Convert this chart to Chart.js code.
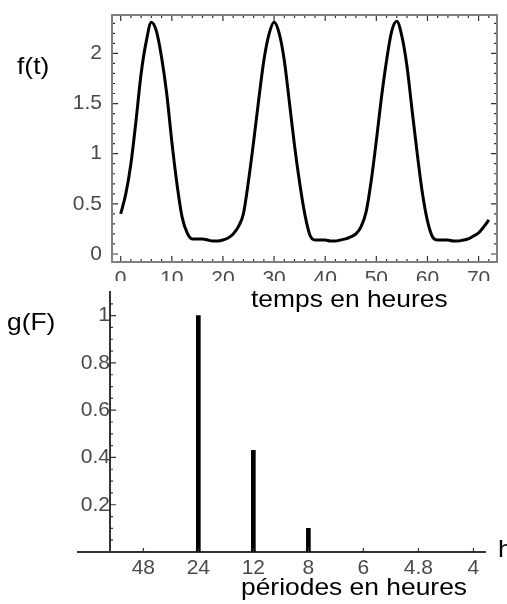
<!DOCTYPE html>
<html>
<head>
<meta charset="utf-8">
<script src="https://cdn.jsdelivr.net/npm/chart.js@4"></script>
<style>
  body { margin: 0; background: #fff; }
  #wrap { position: relative; width: 507px; height: 604px; overflow: hidden; background: #fff; }
  canvas { position: absolute; left: 0; }
  .lbl {
    position: absolute;
    font-family: 'Liberation Sans', Arial, sans-serif;
    font-size: 24px;
    line-height: 24px;
    color: #000;
    white-space: nowrap;
    transform: scaleX(1.1);
    transform-origin: left top;
  }
</style>
</head>
<body>
<div id="wrap">
  <canvas id="topChart" width="507" height="281" style="top:0"></canvas>
  <canvas id="bottomChart" width="507" height="322" style="top:282px"></canvas>
  <div class="lbl" style="left:17px; top:54px">f(t)</div>
  <div class="lbl" style="left:251px; top:287px">temps en heures</div>
  <div class="lbl" style="left:7px; top:310px">g(F)</div>
  <div class="lbl" style="left:498px; top:537px">h</div>
  <div class="lbl" style="left:241px; top:575px">périodes en heures</div>
</div>

<script>
// === Data ===
// f(t), read every hour from t = 0 to t = 72
const hours = [
   0,  1,  2,  3,  4,  5,  6,  7,  8,  9, 10, 11, 12, 13, 14, 15, 16, 17, 18, 19, 20, 21, 22, 23, 24,
  25, 26, 27, 28, 29, 30, 31, 32, 33, 34, 35, 36, 37, 38, 39, 40, 41, 42, 43, 44, 45, 46, 47, 48,
  49, 50, 51, 52, 53, 54, 55, 56, 57, 58, 59, 60, 61, 62, 63, 64, 65, 66, 67, 68, 69, 70, 71, 72
];
const fValues = [
  0.40, 0.60, 0.90, 1.33, 1.80, 2.12, 2.31, 2.22, 1.96, 1.60, 1.12, 0.70, 0.37, 0.21, 0.15, 0.15, 0.15, 0.14, 0.13, 0.13, 0.14, 0.16, 0.20, 0.27, 0.40,
  0.73, 1.12, 1.54, 1.93, 2.19, 2.31, 2.20, 1.93, 1.51, 1.08, 0.71, 0.40, 0.19, 0.14, 0.14, 0.14, 0.13, 0.13, 0.14, 0.15, 0.17, 0.20, 0.27, 0.42,
  0.73, 1.13, 1.56, 1.93, 2.22, 2.32, 2.17, 1.87, 1.43, 1.00, 0.61, 0.33, 0.17, 0.14, 0.14, 0.14, 0.13, 0.13, 0.14, 0.15, 0.18, 0.21, 0.27, 0.34
];
const timeTicks = [0, 10, 20, 30, 40, 50, 60, 70];
const fTicks = [0, 0.5, 1, 1.5, 2];

// spectrum g(F): harmonics of 1/48 h, labelled by their period
const harmonics = [1, 2, 3, 4, 5, 6, 7];
const periodLabels = ['48', '24', '12', '8', '6', '4.8', '4'];
const gValues = [0, 1, 0.43, 0.10, 0, 0, 0];
const gTicks = [0.2, 0.4, 0.6, 0.8, 1];

const tickFont = { family: "'Liberation Sans', Arial, sans-serif", size: 21 };
const tickColor = '#4a4a4a';

// no extra room for half labels: the chart area is set by layout padding only
function noPad(s) {
  s.paddingTop = 0; s.paddingBottom = 0; s.paddingLeft = 0; s.paddingRight = 0;
}

// frame with inward ticks on all sides (top chart)
const framePlugin = {
  id: 'frame',
  afterDraw(chart) {
    const { ctx, chartArea: a, scales: { x, y } } = chart;
    ctx.save();
    ctx.strokeStyle = '#333';
    ctx.lineWidth = 1.2;
    ctx.beginPath();
    for (let t = 0; t <= 72; t += 2) {
      const px = x.getPixelForValue(t);
      const len = t % 10 === 0 ? 6 : 3;
      ctx.moveTo(px, a.bottom); ctx.lineTo(px, a.bottom - len);
      ctx.moveTo(px, a.top); ctx.lineTo(px, a.top + len);
    }
    for (let k = 0; k <= 23; k++) {
      const py = y.getPixelForValue(k / 10);
      const len = k % 5 === 0 ? 6 : 3;
      ctx.moveTo(a.left, py); ctx.lineTo(a.left + len, py);
      ctx.moveTo(a.right, py); ctx.lineTo(a.right - len, py);
    }
    ctx.stroke();
    ctx.strokeStyle = '#808080';
    ctx.lineWidth = 2;
    ctx.strokeRect(a.left, a.top, a.right - a.left, a.bottom - a.top);
    ctx.restore();
  }
};

// small ticks on the crossing axes (bottom chart)
const axisTicksPlugin = {
  id: 'axisTicks',
  afterDraw(chart) {
    const { ctx, scales: { x, y } } = chart;
    const ax = x.getPixelForValue(0.394);
    const ay = y.getPixelForValue(0);
    ctx.save();
    ctx.strokeStyle = '#333';
    ctx.lineWidth = 1.2;
    ctx.beginPath();
    harmonics.forEach(n => {
      const px = x.getPixelForValue(n);
      ctx.moveTo(px, ay); ctx.lineTo(px, ay - 4);
    });
    for (let k = 1; k <= 21; k++) {
      const py = y.getPixelForValue(k * 0.05);
      const len = k % 4 === 0 ? 6 : 3;
      ctx.moveTo(ax, py); ctx.lineTo(ax + len, py);
    }
    ctx.stroke();
    ctx.restore();
  }
};

document.addEventListener('DOMContentLoaded', function() {
  Chart.defaults.font.family = "'Liberation Sans', Arial, sans-serif";

  // =========================
  // 1. f(t) over time
  // =========================
  new Chart(document.getElementById('topChart'), {
    type: 'line',
    data: {
      datasets: [{
        data: fValues.map((v, i) => ({ x: hours[i], y: v })),
        borderColor: '#000',
        borderWidth: 3,
        pointRadius: 0,
        cubicInterpolationMode: 'monotone',
        fill: false
      }]
    },
    options: {
      responsive: false,
      animation: false,
      devicePixelRatio: 1,
      layout: { padding: { left: 0, right: 10, top: 15, bottom: 0 } },
      plugins: { legend: { display: false }, tooltip: { enabled: false } },
      scales: {
        x: {
          type: 'linear',
          min: -1.7,
          max: 73.6,
          afterBuildTicks: s => { s.ticks = timeTicks.map(v => ({ value: v })); },
          afterFit: s => { s.height = 19; noPad(s); },
          grid: { display: false, drawTicks: false },
          border: { display: false },
          ticks: { font: tickFont, color: tickColor, padding: 5, maxRotation: 0, autoSkip: false }
        },
        y: {
          min: -0.08,
          max: 2.383,
          afterBuildTicks: s => { s.ticks = fTicks.map(v => ({ value: v })); },
          afterFit: s => { s.width = 112; noPad(s); },
          grid: { display: false, drawTicks: false },
          border: { display: false },
          ticks: { font: tickFont, color: tickColor, padding: 10, callback: v => String(v) }
        }
      }
    },
    plugins: [framePlugin]
  });

  // =========================
  // 2. Spectrum g(F)
  // =========================
  new Chart(document.getElementById('bottomChart'), {
    type: 'bar',
    data: {
      datasets: [{
        data: harmonics.map((n, i) => ({ x: n, y: gValues[i] })),
        backgroundColor: '#000',
        barThickness: 4
      }]
    },
    options: {
      responsive: false,
      animation: false,
      devicePixelRatio: 1,
      layout: { padding: { left: 78, right: 22, top: 10, bottom: 0 } },
      plugins: { legend: { display: false }, tooltip: { enabled: false } },
      scales: {
        x: {
          type: 'linear',
          offset: false,
          min: -0.187,
          max: 7.21,
          afterBuildTicks: s => { s.ticks = harmonics.map(v => ({ value: v })); },
          afterFit: s => { s.height = 52; noPad(s); },
          grid: { display: false, drawTicks: false },
          border: { color: '#333', width: 2 },
          ticks: {
            font: tickFont, color: tickColor, padding: 4, maxRotation: 0, autoSkip: false,
            callback: (v, i) => periodLabels[i]
          }
        },
        y: {
          min: 0,
          max: 1.1,
          position: { x: 0.394 },
          afterBuildTicks: s => { s.ticks = gTicks.map(v => ({ value: v })); },
          afterFit: s => { s.width = 0; noPad(s); },
          grid: { display: false, drawTicks: false },
          border: { color: '#333', width: 2 },
          ticks: { font: tickFont, color: tickColor, padding: 10, callback: v => String(v) }
        }
      }
    },
    plugins: [axisTicksPlugin]
  });
});
</script>
</body>
</html>
